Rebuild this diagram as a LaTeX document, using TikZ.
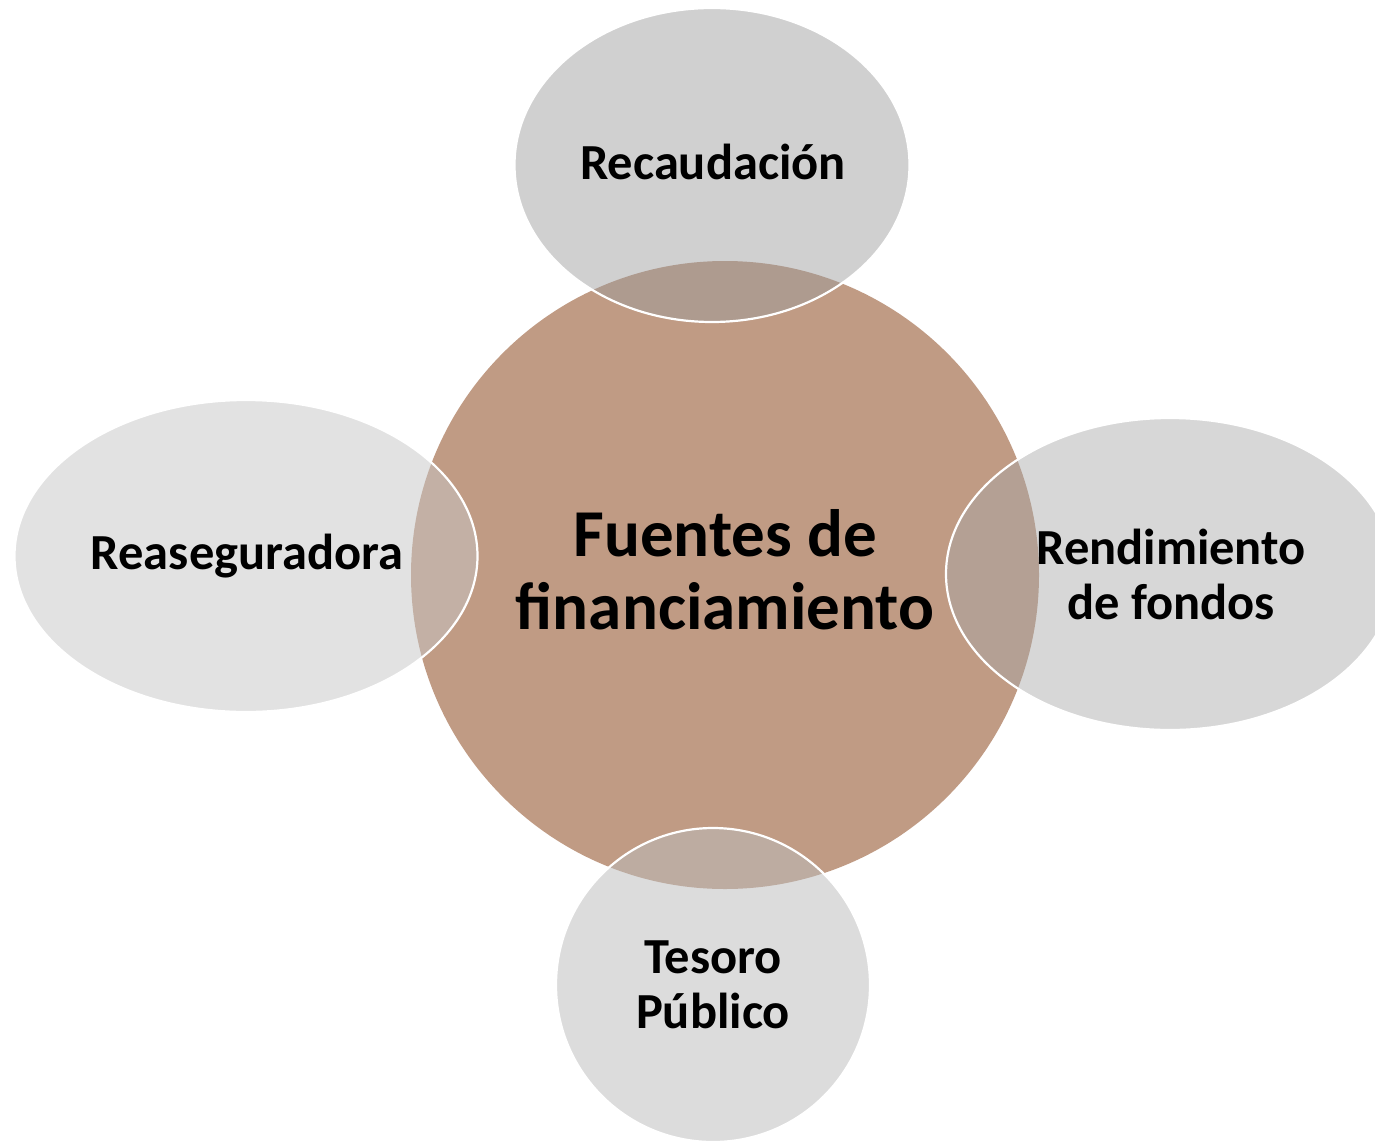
\documentclass[tikz,border=0pt]{standalone}
\usepackage{fontspec}
\setmainfont{Carlito}
\usetikzlibrary{shapes.geometric}
\definecolor{brownc}{RGB}{192,155,132}
\definecolor{gtop}{RGB}{156,156,156}
\definecolor{gleft}{RGB}{198,198,198}
\definecolor{gright}{RGB}{168,168,168}
\definecolor{gbot}{RGB}{188,188,188}
\begin{document}
\begin{tikzpicture}[x=1pt,y=-1pt,
  sat/.style={ellipse, draw=white, line width=2.2pt, inner sep=0pt,
    text opacity=1, text=black, align=center},
  hub/.style={circle, fill=brownc, inner sep=0pt},
  lbl/.style={font=\bfseries\fontsize{50.5}{55}\selectfont, align=center, text=black},
  hublbl/.style={font=\bfseries\fontsize{67}{73}\selectfont, align=center, text=black}]
\useasboundingbox (0,0) rectangle (1375,1140);
\clip (0,0) rectangle (1375,1140);
\node[hub, minimum size=628pt] (c) at (725,575) {};
\node[sat, fill=gtop, fill opacity=.476, minimum width=395pt, minimum height=314pt] (t) at (712,165) {};
\node[sat, fill=gleft, fill opacity=.51, minimum width=463pt, minimum height=312pt] (l) at (246,556) {};
\node[sat, fill=gright, fill opacity=.46, minimum width=448pt, minimum height=312pt] (r) at (1170,574) {};
\node[sat, fill=gbot, fill opacity=.524, minimum width=314pt, minimum height=314pt] (b) at (713,985) {};
\node[hublbl] (ct) at (725,570) {Fuentes de\\financiamiento};
\node[lbl] (tt) at (713,162) {Recaudación};
\node[lbl] (lt) at (247,556) {Reaseguradora};
\node[lbl] (rt) at (1171,574) {Rendimiento\\de fondos};
\node[lbl] (bt) at (713,985) {Tesoro\\Público};
\end{tikzpicture}
\end{document}
